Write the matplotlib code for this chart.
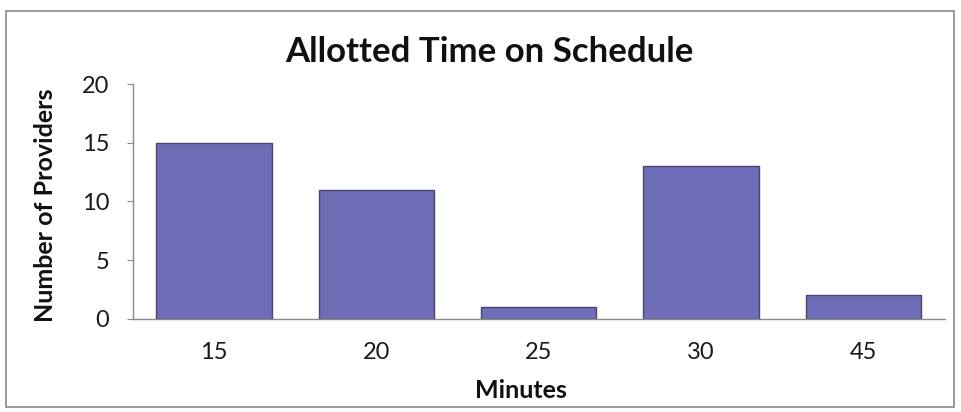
import matplotlib
matplotlib.use("Agg")
import matplotlib.pyplot as plt
from matplotlib.patches import Rectangle

categories = ["15", "20", "25", "30", "45"]
providers = [15, 11, 1, 13, 2]
yticks = [0, 5, 10, 15, 20]

plt.rcParams['font.family'] = ['Lato', 'DejaVu Sans']

fig = plt.figure(figsize=(9.62, 4.12), dpi=100)
fig.patch.set_facecolor('white')
# outer chart border
fig.patches.append(Rectangle((0.006, 0.012), 0.986, 0.962, transform=fig.transFigure,
                             fill=False, edgecolor='#8a8a8a', linewidth=1.2))

ax = fig.add_axes([0.138, 0.226, 0.844, 0.570])
x = list(range(len(categories)))
ax.bar(x, providers, width=0.71, color='#6d6db8', edgecolor='#47476e', linewidth=1.0)
ax.set_xlim(-0.5, len(categories) - 0.5)
ax.set_ylim(0, 20)
ax.set_yticks(yticks)
ax.set_xticks(x)
ax.set_xticklabels(categories)
ax.tick_params(axis='x', length=0, pad=17, labelsize=17, colors='#1a1a1a')
ax.tick_params(axis='y', length=4, width=0.8, colors='#8a8a8a', labelcolor='#1a1a1a',
               labelsize=17, pad=13)
for s in ['top', 'right']:
    ax.spines[s].set_visible(False)
for s in ['left', 'bottom']:
    ax.spines[s].set_color('#8a8a8a')
    ax.spines[s].set_linewidth(1.0)

fig.text(0.509, 0.874, "Allotted Time on Schedule", fontsize=25, fontweight='bold',
         ha='center', va='center', color='#111111')
fig.text(0.541, 1 - 391/412, "Minutes", fontsize=18, fontweight='bold',
         ha='center', va='center', color='#111111')
fig.text(46/962, 1 - 205/412, "Number of Providers", fontsize=18, fontweight='bold',
         ha='center', va='center', rotation=90, color='#111111')

fig.savefig("out.png", dpi=100)
